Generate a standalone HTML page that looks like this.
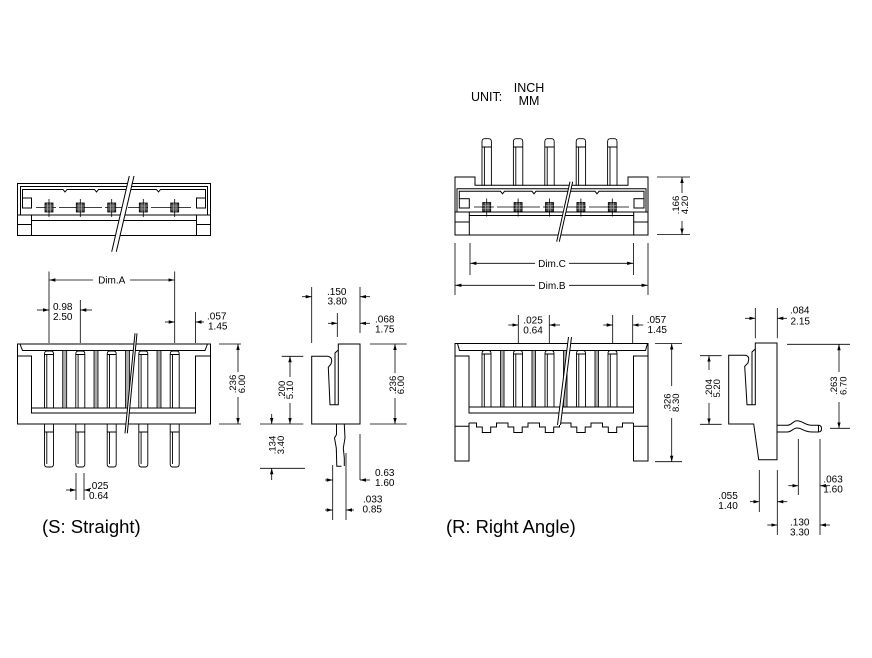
<!DOCTYPE html>
<html><head><meta charset="utf-8"><style>
html,body{margin:0;padding:0;background:#fff;}
svg{display:block;}
text{font-family:"Liberation Sans",Arial,sans-serif;fill:#000;stroke:none;font-size:10px;}
.r text{font-size:9.5px;}
</style></head><body>
<svg width="872" height="658" viewBox="0 0 872 658" xmlns="http://www.w3.org/2000/svg">
<defs>
<marker id="ar" markerUnits="userSpaceOnUse" markerWidth="6" markerHeight="4" viewBox="0 0 6 4" refX="6" refY="2" orient="auto"><path d="M0,0.3L6,2L0,3.7z" fill="#000"/></marker>
<g id="pinIn" fill="none" stroke="#000" stroke-width="0.9"><path d="M-4.5,57V3Q-4.5,0 -2,0H2Q4.5,0 4.5,3V57"/><path d="M-4.5,3.5H4.5M-2.2,4V57"/></g>
<g id="pinOut" fill="none" stroke="#000" stroke-width="0.9"><path d="M-4.5,0V40Q-4.5,43 -2,43H2Q4.5,43 4.5,40V0"/><path d="M-4.5,8H4.5M-2.2,8V40"/></g>
<g id="pinUp" fill="none" stroke="#000" stroke-width="0.9"><path d="M-4.7,47V3Q-4.7,0 -2,0H2Q4.7,0 4.7,3V47"/><path d="M-4.7,8.3H4.7M-2.3,8.3V47"/></g>
<g id="wallS"><rect x="-2" y="0" width="4" height="57.5" fill="#aaa" stroke="#000" stroke-width="0.8"/></g>
<g id="wallR"><rect x="-1.8" y="0" width="3.6" height="56.5" fill="#aaa" stroke="#000" stroke-width="0.8"/></g>
<g id="sq"><path d="M0,-8.5V9.5" stroke="#000" stroke-width="0.8"/><rect x="-4" y="-4.5" width="8" height="9" fill="#444" stroke="#000" stroke-width="0.8"/><path d="M-4,-1.5H4M-4,1.5H4M-1.3,-4.5V4.5M1.3,-4.5V4.5" stroke="#bbb" stroke-width="0.6"/></g>
</defs>

<!-- UNIT -->
<text x="471" y="101" style="font-size:12.5px">UNIT:</text>
<text x="529" y="92" text-anchor="middle" style="font-size:12.5px">INCH</text>
<text x="529" y="105" text-anchor="middle" style="font-size:12.5px">MM</text>

<!-- ============ S TOP VIEW ============ -->
<g fill="none" stroke="#000" stroke-width="1">
<rect x="17.5" y="183.5" width="193" height="52"/>
<path d="M20.5,215V186.5H207.5V215"/>
<path d="M22.5,198V189.5H63l2,2.5l2,-2.5H94.5l2,2.5l2,-2.5H156.5l2,2.5l2,-2.5H205.5V198"/>
<rect x="22.5" y="198" width="9" height="10"/>
<rect x="196.5" y="198" width="9" height="10"/>
<path d="M17.5,215H210.5M31.5,215V235.5M196.5,215V235.5M31.5,220.5H196.5M17.5,224.5H31.5M196.5,224.5H210.5"/>
<path d="M36,207.5H191" stroke-dasharray="20 3" stroke-width="0.8"/>
</g>
<use href="#sq" x="49" y="207.5"/><use href="#sq" x="80.3" y="207.5"/><use href="#sq" x="111.7" y="207.5"/><use href="#sq" x="143.3" y="207.5"/><use href="#sq" x="174.7" y="207.5"/>
<polygon points="129.3,176 134,176 116.3,251.7 111.7,251.7" fill="#fff"/>
<path d="M129.3,176L111.7,251.7M134,176L116.3,251.7" stroke="#000" stroke-width="1" fill="none"/>

<!-- ============ S FRONT VIEW ============ -->
<g fill="none" stroke="#000" stroke-width="1">
<rect x="17.5" y="344" width="193" height="80"/>
<path d="M20,344L22.5,350.5H205L207.5,344"/>
<path d="M17.5,356H31.5V413H195.5V356H210.5"/>
<path d="M31.5,408H195.5"/>
</g>
<use href="#wallS" x="64.7" y="350.5"/><use href="#wallS" x="96" y="350.5"/><use href="#wallS" x="127.5" y="350.5"/><use href="#wallS" x="159" y="350.5"/>
<use href="#pinIn" x="49" y="351"/><use href="#pinIn" x="80.3" y="351"/><use href="#pinIn" x="111.7" y="351"/><use href="#pinIn" x="143.3" y="351"/><use href="#pinIn" x="174.7" y="351"/>
<use href="#pinOut" x="49" y="424"/><use href="#pinOut" x="80.3" y="424"/><use href="#pinOut" x="111.7" y="424"/><use href="#pinOut" x="143.3" y="424"/><use href="#pinOut" x="174.7" y="424"/>
<polygon points="135,333.3 137,333.3 127.3,433.3 125,433.3" fill="#fff"/>
<path d="M135,333.3L125,433.3M137,333.3L127.3,433.3" stroke="#000" stroke-width="1" fill="none"/>

<g fill="none" stroke="#000" stroke-width="0.8">
<path d="M49,271.5V343M174.7,271.5V343M80.3,300V343M195.5,312V343"/>
<path d="M93,280H49.4" marker-end="url(#ar)"/>
<path d="M130,280H174.3" marker-end="url(#ar)"/>
<path d="M37,310H49" marker-end="url(#ar)"/>
<path d="M92,310H80.3" marker-end="url(#ar)"/>
<path d="M165,322H174.7" marker-end="url(#ar)"/>
<path d="M204,322H195.5" marker-end="url(#ar)"/>
<path d="M219,344H241M219,424H241"/>
<path d="M238,372V344" marker-end="url(#ar)"/>
<path d="M238,397V424" marker-end="url(#ar)"/>
<path d="M76,473V500M84,473V500"/>
<path d="M66,490H76" marker-end="url(#ar)"/>
<path d="M90,490H84" marker-end="url(#ar)"/>
</g>
<text x="111.7" y="283.5" text-anchor="middle">Dim.A</text>
<text x="53" y="310">0.98</text><text x="53" y="320">2.50</text>
<text x="207" y="319.5">.057</text><text x="208" y="329.5">1.45</text>
<g class="r" transform="translate(236,384) rotate(-90)"><text text-anchor="middle">.236</text><text y="9" text-anchor="middle">6.00</text></g>
<text x="89" y="489">.025</text><text x="89" y="499">0.64</text>

<!-- ============ S SIDE VIEW ============ -->
<g fill="none" stroke="#000" stroke-width="1">
<path d="M338.3,344H360V424H311.7V356.3H327.7Q332,357 331.7,361L331,364L328.3,367.3L330,404.7H338.3Z"/>
<path d="M335,404.7V353L338.3,350"/>
<path d="M336.5,424.5V434.5L334.5,438L336.3,448L336.8,466.3H341.5"/>
<path d="M344.3,424.5L345,438L343.3,448L344.3,458V466"/>
</g>
<g fill="none" stroke="#000" stroke-width="0.8">
<path d="M311.7,287V343M360,287V333M337.3,313V337"/>
<path d="M302,296.7H311.7" marker-end="url(#ar)"/>
<path d="M370,296.7H360" marker-end="url(#ar)"/>
<path d="M328,323.3H337.3" marker-end="url(#ar)"/>
<path d="M370,323.3H360" marker-end="url(#ar)"/>
<path d="M281.7,356.3H303.3M260,424H303.3M260,468.3H305"/>
<path d="M290,377V356.3" marker-end="url(#ar)"/>
<path d="M290,403V424" marker-end="url(#ar)"/>
<path d="M271.7,414V424" marker-end="url(#ar)"/>
<path d="M271.7,480V468.3" marker-end="url(#ar)"/>
<path d="M370,344H406.7M370,424H406.7"/>
<path d="M395,373V344" marker-end="url(#ar)"/>
<path d="M395,398V424" marker-end="url(#ar)"/>
<path d="M360,434V480M332.7,465V520M346,453V520"/>
<path d="M325,480H332.7" marker-end="url(#ar)"/>
<path d="M370,480H360" marker-end="url(#ar)"/>
<path d="M325,510H332.7" marker-end="url(#ar)"/>
<path d="M354,510H346" marker-end="url(#ar)"/>
</g>
<text x="327" y="295">.150</text><text x="327.5" y="304.5">3.80</text>
<text x="375" y="322.5">.068</text><text x="375" y="332.5">1.75</text>
<g class="r" transform="translate(285,390) rotate(-90)"><text text-anchor="middle">.200</text><text y="8" text-anchor="middle">5.10</text></g>
<g class="r" transform="translate(275.5,445) rotate(-90)"><text text-anchor="middle">.134</text><text y="8.5" text-anchor="middle">3.40</text></g>
<g class="r" transform="translate(396,385) rotate(-90)"><text text-anchor="middle">.236</text><text y="8" text-anchor="middle">6.00</text></g>
<text x="375" y="476">0.63</text><text x="375" y="486">1.60</text>
<text x="363" y="502.5">.033</text><text x="362.5" y="512.5">0.85</text>

<!-- ============ R TOP VIEW ============ -->
<use href="#pinUp" x="486.7" y="138.7"/><use href="#pinUp" x="518.1" y="138.7"/><use href="#pinUp" x="549.5" y="138.7"/><use href="#pinUp" x="580.9" y="138.7"/><use href="#pinUp" x="612.3" y="138.7"/>
<g fill="none" stroke="#000" stroke-width="1">
<path d="M455,235V177H475V185.3H628V177H648V235Z"/>
<path d="M457,212V188.7H646V212"/>
<path d="M459.3,198.7V191.3H500.5l2,2.5l2,-2.5H532l2,2.5l2,-2.5H595l2,2.5l2,-2.5H644V198.7"/>
<rect x="459.3" y="198.7" width="10" height="9.3"/>
<rect x="634" y="198.7" width="10" height="9.3"/>
<path d="M455,212H648M469.3,212V235M633.7,212V235M469.3,215.5H633.7M455,222H469.3M633.7,222H648"/>
<path d="M474,207H629" stroke-dasharray="20 3" stroke-width="0.8"/>
</g>
<use href="#sq" x="486.7" y="207"/><use href="#sq" x="518.1" y="207"/><use href="#sq" x="549.5" y="207"/><use href="#sq" x="580.9" y="207"/><use href="#sq" x="612.3" y="207"/>
<polygon points="570,181.7 572.7,181.7 559.3,241.7 556.7,241.7" fill="#fff"/>
<path d="M570,181.7L556.7,241.7M572.7,181.7L559.3,241.7" stroke="#000" stroke-width="1" fill="none"/>
<g fill="none" stroke="#000" stroke-width="0.8">
<path d="M657,177H690M657,234.5H690"/>
<path d="M682,193V177" marker-end="url(#ar)"/>
<path d="M682,221V234.5" marker-end="url(#ar)"/>
<path d="M470,243V275M633.5,243V275"/>
<path d="M535,263.3H470.4" marker-end="url(#ar)"/>
<path d="M569,263.3H633.1" marker-end="url(#ar)"/>
<path d="M455,243V295M648,243V295"/>
<path d="M535,285.3H455.4" marker-end="url(#ar)"/>
<path d="M569,285.3H647.6" marker-end="url(#ar)"/>
</g>
<g class="r" transform="translate(679,205) rotate(-90)"><text text-anchor="middle">.166</text><text y="9" text-anchor="middle">4.20</text></g>
<text x="552" y="267" text-anchor="middle">Dim.C</text>
<text x="552" y="289" text-anchor="middle">Dim.B</text>

<!-- ============ R FRONT VIEW ============ -->
<g fill="none" stroke="#000" stroke-width="1">
<path d="M469,423V461H455V343.5H648V461H633.5V423"/>
<path d="M469,423H476.5V427H482.3V432.5H490.7V427H496.5V423H508V427H513.8V432.5H522.2V427H528V423H539.5V427H545.3V432.5H553.7V427H559.5V423H571V427H576.8V432.5H585.2V427H591V423H602.5V427H608.3V432.5H616.7V427H622.5V423H633.5"/>
<path d="M455,426.3H469M633.5,426.3H648"/>
<path d="M457.5,343.5L459.5,350.5H645.5L647.5,343.5"/>
<path d="M455,356H469V413H633.5V356H648"/>
<path d="M469,407H633.5"/>
</g>
<use href="#wallR" x="502.25" y="350.5"/><use href="#wallR" x="533.75" y="350.5"/><use href="#wallR" x="565.25" y="350.5"/><use href="#wallR" x="596.75" y="350.5"/>
<use href="#pinIn" x="486.5" y="350.5"/><use href="#pinIn" x="518" y="350.5"/><use href="#pinIn" x="549.5" y="350.5"/><use href="#pinIn" x="581" y="350.5"/><use href="#pinIn" x="612.5" y="350.5"/>
<path d="M469,407H633.5" stroke="#000" stroke-width="1"/>
<polygon points="568.5,337 571.5,337 560.5,425 557.5,425" fill="#fff"/>
<path d="M568.5,337L557.5,425M571.5,337L560.5,425" stroke="#000" stroke-width="1" fill="none"/>
<g fill="none" stroke="#000" stroke-width="0.8">
<path d="M518.3,315V343M549.3,315V343"/>
<path d="M508.3,325H518.3" marker-end="url(#ar)"/>
<path d="M560,325H549.3" marker-end="url(#ar)"/>
<path d="M612.7,315V343M632.7,315V343"/>
<path d="M603.3,325H612.7" marker-end="url(#ar)"/>
<path d="M643.3,325H632.7" marker-end="url(#ar)"/>
<path d="M655,343.5H682M655,461.7H682"/>
<path d="M671.7,386V343.5" marker-end="url(#ar)"/>
<path d="M671.7,418V461.7" marker-end="url(#ar)"/>
</g>
<text x="523.3" y="323.3">.025</text><text x="523.3" y="333.3">0.64</text>
<text x="646.7" y="323">.057</text><text x="647.5" y="333">1.45</text>
<g class="r" transform="translate(670.5,402.7) rotate(-90)"><text text-anchor="middle">.326</text><text y="8.5" text-anchor="middle">8.30</text></g>

<!-- ============ R SIDE VIEW ============ -->
<g fill="none" stroke="#000" stroke-width="1">
<path d="M755.3,343H777V459.7H758.7L753.7,424H728.7V355.3H745.3Q749,356 748.7,359.5L748,363L744.7,366.3L747,404.7H755.3Z"/>
<path d="M752,404.7V352L755.3,349"/>
<path d="M777,425.3H787C792,425.3 793,420.7 797,420.7C801,420.7 803,423 806,424C809,425.3 810,425.3 818.5,425.3"/>
<path d="M777,432H787C792,432 793,428 797,428C801,428 803,430.3 806,431C809,432 810,432 818.5,432"/>
<path d="M818.5,425.3Q821.5,425.3 821.5,428.6Q821.5,432 818.5,432M818.5,425.3V432"/>
</g>
<g fill="none" stroke="#000" stroke-width="0.8">
<path d="M755.3,308V338.3M777.3,308V338.3"/>
<path d="M745,318.3H755.3" marker-end="url(#ar)"/>
<path d="M787,318.3H777.3" marker-end="url(#ar)"/>
<path d="M787,344.3H850M830,428.3H850"/>
<path d="M839,372V344.3" marker-end="url(#ar)"/>
<path d="M839,402V428.3" marker-end="url(#ar)"/>
<path d="M700,355.7H721.7M700,424.3H721.7"/>
<path d="M709,370V355.7" marker-end="url(#ar)"/>
<path d="M709,403V424.3" marker-end="url(#ar)"/>
<path d="M798.3,439V495M820,439V535"/>
<path d="M788.3,485.7H798.3" marker-end="url(#ar)"/>
<path d="M830,485.7H820" marker-end="url(#ar)"/>
<path d="M759.3,470V512M777.3,470V535"/>
<path d="M750,501.7H759.3" marker-end="url(#ar)"/>
<path d="M787.3,501.7H777.3" marker-end="url(#ar)"/>
<path d="M767.3,525H777.3" marker-end="url(#ar)"/>
<path d="M830,525H820" marker-end="url(#ar)"/>
</g>
<text x="790" y="313.3">.084</text><text x="790.5" y="324.3">2.15</text>
<g class="r" transform="translate(837,385.7) rotate(-90)"><text text-anchor="middle">.263</text><text y="9.5" text-anchor="middle">6.70</text></g>
<g class="r" transform="translate(712,388.3) rotate(-90)"><text text-anchor="middle">.204</text><text y="8" text-anchor="middle">5.20</text></g>
<text x="823.3" y="482.3">.063</text><text x="823.3" y="492.3">1.60</text>
<text x="718.3" y="499">.055</text><text x="718.3" y="509">1.40</text>
<text x="790" y="525.7">.130</text><text x="790" y="535.7">3.30</text>

<!-- captions -->
<text x="42" y="533" style="font-size:18.5px">(S: Straight)</text>
<text x="446" y="533" style="font-size:18.4px">(R: Right Angle)</text>
</svg>
</body></html>
